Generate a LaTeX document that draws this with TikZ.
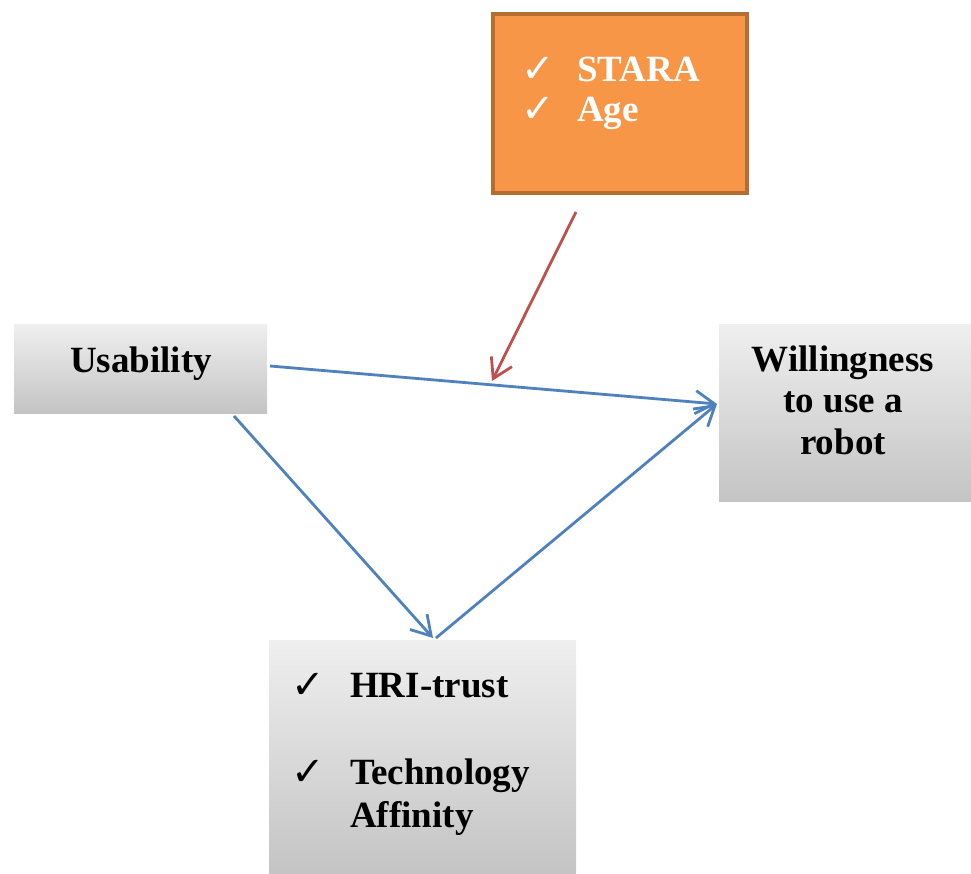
\documentclass[tikz,border=0pt]{standalone}
\usepackage{fontspec}
\setmainfont{Liberation Serif}
\newfontfamily\symfont{DejaVu Sans}
\usetikzlibrary{arrows.meta,shadings}
\definecolor{orfill}{HTML}{F79646}
\definecolor{ordraw}{HTML}{B66D31}
\definecolor{bluel}{HTML}{4F81BD}
\definecolor{redl}{HTML}{C0504D}
\definecolor{gtop}{HTML}{EFEFEF}
\definecolor{gbot}{HTML}{C4C4C4}
\begin{document}
\begin{tikzpicture}[x=1pt,y=1pt,
  graybox/.style={shade, top color=gtop, bottom color=gbot, draw=none, inner sep=0pt, anchor=north west},
  orbox/.style={fill=orfill, draw=ordraw, line width=4pt, inner sep=0pt, anchor=north west},
  txt/.style={font=\fontsize{37}{42}\selectfont\bfseries, inner sep=0pt},
  chk/.style={font=\fontsize{40}{44}\symfont, inner sep=0pt, anchor=base west},
  conn/.style={line width=2.8pt, -{Straight Barb[length=19pt,width=23pt,line width=2.8pt]}},
]
\useasboundingbox (0,0) rectangle (971,873);
% boxes
\node[orbox, minimum width=254pt, minimum height=179pt] (mod) at (491,861) {};
\node[graybox, minimum width=253pt, minimum height=89pt] (use) at (14,549) {};
\node[graybox, minimum width=252pt, minimum height=177pt] (will) at (719,549) {};
\node[graybox, minimum width=307pt, minimum height=233pt] (med) at (269,233) {};
% texts
\node[chk, text=white] (c1) at (521,790) {✓};
\node[txt, text=white, anchor=base west] (stara) at (577,791) {STARA};
\node[chk, text=white] (c2) at (521,750) {✓};
\node[txt, text=white, anchor=base west] (age) at (577,751) {Age};
\node[txt, anchor=base west] (usetxt) at (70,500) {Usability};
\node[txt, anchor=base] (w1) at (843,501) {Willingness};
\node[txt, anchor=base] (w2) at (843,460) {to use a};
\node[txt, anchor=base] (w3) at (843,418) {robot};
\node[chk] (c3) at (291,175) {✓};
\node[txt, anchor=base west] (hri) at (350,176) {HRI-trust};
\node[chk] (c4) at (291,88) {✓};
\node[txt, anchor=base west] (tech) at (350,89) {Technology};
\node[txt, anchor=base west] (aff) at (350,46) {Affinity};
% connector endpoints
\coordinate (uA) at (270,507);
\coordinate (wA) at (717,469);
\coordinate (uB) at (234,457);
\coordinate (mB) at (433,235);
\coordinate (mC) at (436,235);
\coordinate (mR) at (576,661);
\coordinate (hit) at (492,492);
% connectors
\draw[conn, bluel] (uA) -- (wA);
\draw[conn, bluel] (uB) -- (mB);
\draw[conn, bluel] (mC) -- (wA);
\draw[conn, redl] (mR) -- (hit);
\end{tikzpicture}
\end{document}
